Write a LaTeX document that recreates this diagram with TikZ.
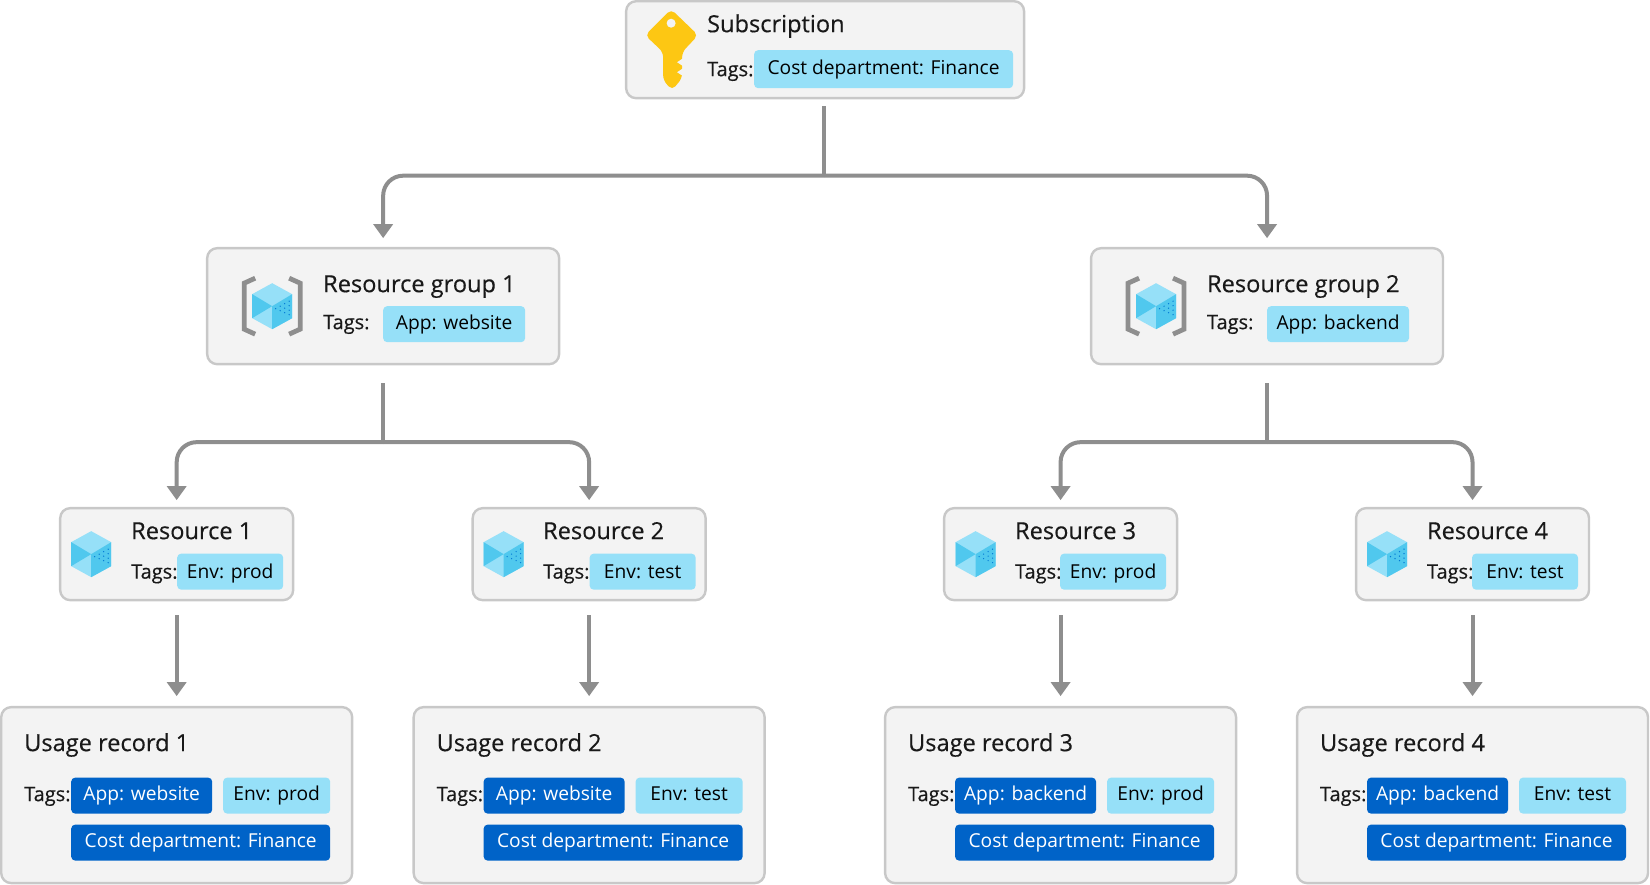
\documentclass[tikz,border=0pt]{standalone}
\usepackage{fontspec}
\setmainfont{Open Sans}
\newfontfamily\ttlfont[FakeBold=0.35]{Open Sans}
\usetikzlibrary{calc, arrows.meta}
\definecolor{chipblue}{HTML}{96E0F8}
\definecolor{chipdark}{HTML}{0063C8}
\definecolor{cubedark}{HTML}{50C8EE}
\definecolor{boxfill}{HTML}{F3F3F3}
\definecolor{boxline}{HTML}{C8C8C8}
\definecolor{linegray}{HTML}{8E8E8E}
\definecolor{keyyellow}{HTML}{FDC713}
\definecolor{dotblue}{HTML}{0078D4}

\begin{document}
\begin{tikzpicture}[
  x=1pt, y=-1pt,
  every node/.append style={inner sep=0pt, outer sep=0pt},
  box/.style={draw=boxline, line width=2.4pt, rounded corners=10pt, fill=boxfill},
  rgbox/.style={box, minimum width=352pt, minimum height=116pt},
  resbox/.style={box, minimum width=233pt, minimum height=92pt},
  usebox/.style={box, minimum width=351pt, minimum height=176pt},
  chip/.style={rounded corners=4pt, fill=chipblue, minimum height=36pt, text height=15pt, text depth=5pt, align=center, font=\fontsize{19.2}{24}\selectfont},
  dchip/.style={chip, fill=chipdark, text=white},
  rchip/.style={chip, text height=18pt, minimum width=106pt},
  ttl/.style={anchor=base west, font=\ttlfont\fontsize{23.6}{26}\selectfont, text=black!90},
  tg/.style={anchor=base west, font=\ttlfont\fontsize{20}{24}\selectfont, text=black!90},
  arr/.style={-{Triangle[length=14pt, width=19pt]}, draw=linegray, line width=4pt, rounded corners=20pt},
  stem/.style={draw=linegray, line width=4pt},
  cube/.pic={
    \fill[chipblue] (0,-23) -- (20,-12) -- (20,12) -- (0,23) -- (-20,12) -- (-20,-12) -- cycle;
    \fill[cubedark] (-20,-12) -- (0,0) -- (-20,12) -- cycle;
    \fill[cubedark] (0,0) -- (20,-12) -- (20,12) -- (0,23) -- cycle;
    \foreach \i in {0,1,2,3} \foreach \j in {0,...,\i}
      \fill[dotblue] (17-\j*4.5,-5+\i*4.5-\j*2) circle (0.7);
  },
  bracket/.pic={
    \draw[linegray, line width=4.8pt] (-17,-28) -- (-28,-23) -- (-28,23) -- (-17,28);
    \draw[linegray, line width=4.8pt] (17,-28) -- (28,-23) -- (28,23) -- (17,28);
  },
]

%% ─── Subscription ───────────────────────────────────────────────────────────
\node[box, minimum width=398pt, minimum height=97pt] (sub) at (825,49.5) {};
\fill[keyyellow, rounded corners=5pt] (671,9) -- (698,35) -- (682,52) -- (682,78) -- (672,90) -- (663,80) -- (663,52) -- (645,35) -- cycle;
\fill[boxfill] (683,58) -- (677,62) -- (683,66) -- cycle;
\fill[boxfill] (683,68) -- (677,72) -- (683,76) -- cycle;
\fill[boxfill] (671,23) circle (4.5);
\node[ttl] (subttl) at (707,32) {Subscription};
\node[tg]  (subtg)  at (707,76) {Tags:};
\node[chip, minimum width=259pt, minimum height=38pt] (subchip) at (883.5,69) {Cost department: Finance};

%% ─── Resource groups ────────────────────────────────────────────────────────
\node[rgbox] (rg1) at (383,306) {};
\pic at (272,306) {cube};
\pic at (272,306) {bracket};
\node[ttl] (rg1ttl) at (323,292) {Resource group 1};
\node[tg]  (rg1tg)  at (323,329) {Tags:};
\node[chip, minimum width=142pt] (rg1chip) at (454,324) {App: website};

\node[rgbox] (rg2) at (1267,306) {};
\pic at (1156,306) {cube};
\pic at (1156,306) {bracket};
\node[ttl] (rg2ttl) at (1207,292) {Resource group 2};
\node[tg]  (rg2tg)  at (1207,329) {Tags:};
\node[chip, minimum width=142pt] (rg2chip) at (1338,324) {App: backend};

%% ─── Resources ──────────────────────────────────────────────────────────────
\node[resbox] (res1) at (176.5,554) {};
\pic at (91,554) {cube};
\node[ttl] (res1ttl) at (131,539) {Resource 1};
\node[tg]  (res1tg)  at (131,578.5) {Tags:};
\node[rchip] (res1chip) at (230,571.5) {Env: prod};

\node[resbox] (res2) at (589,554) {};
\pic at (503.5,554) {cube};
\node[ttl] (res2ttl) at (543,539) {Resource 2};
\node[tg]  (res2tg)  at (543,578.5) {Tags:};
\node[rchip] (res2chip) at (642.5,571.5) {Env: test};

\node[resbox] (res3) at (1060.5,554) {};
\pic at (975.5,554) {cube};
\node[ttl] (res3ttl) at (1015,539) {Resource 3};
\node[tg]  (res3tg)  at (1015,578.5) {Tags:};
\node[rchip] (res3chip) at (1113,571.5) {Env: prod};

\node[resbox] (res4) at (1472.5,554) {};
\pic at (1387,554) {cube};
\node[ttl] (res4ttl) at (1427,539) {Resource 4};
\node[tg]  (res4tg)  at (1427,578.5) {Tags:};
\node[rchip] (res4chip) at (1525,571.5) {Env: test};

%% ─── Usage records ──────────────────────────────────────────────────────────
\node[usebox] (use1) at (176.5,795) {};
\node[ttl] (use1ttl) at (24,751) {Usage record 1};
\node[tg]  (use1tg)  at (24,801) {Tags:};
\node[dchip, minimum width=141pt] (use1app) at (141.5,795.5) {App: website};
\node[chip,  minimum width=107pt] (use1env) at (276.5,795.5) {Env: prod};
\node[dchip, minimum width=259pt] (use1cost) at (200.5,842.5) {Cost department: Finance};

\node[usebox] (use2) at (589,795) {};
\node[ttl] (use2ttl) at (436.5,751) {Usage record 2};
\node[tg]  (use2tg)  at (436.5,801) {Tags:};
\node[dchip, minimum width=141pt] (use2app) at (554,795.5) {App: website};
\node[chip,  minimum width=107pt] (use2env) at (689,795.5) {Env: test};
\node[dchip, minimum width=259pt] (use2cost) at (613,842.5) {Cost department: Finance};

\node[usebox] (use3) at (1060.5,795) {};
\node[ttl] (use3ttl) at (908,751) {Usage record 3};
\node[tg]  (use3tg)  at (908,801) {Tags:};
\node[dchip, minimum width=141pt] (use3app) at (1025.5,795.5) {App: backend};
\node[chip,  minimum width=107pt] (use3env) at (1160.5,795.5) {Env: prod};
\node[dchip, minimum width=259pt] (use3cost) at (1084.5,842.5) {Cost department: Finance};

\node[usebox] (use4) at (1472.5,795) {};
\node[ttl] (use4ttl) at (1320,751) {Usage record 4};
\node[tg]  (use4tg)  at (1320,801) {Tags:};
\node[dchip, minimum width=141pt] (use4app) at (1437.5,795.5) {App: backend};
\node[chip,  minimum width=107pt] (use4env) at (1572.5,795.5) {Env: test};
\node[dchip, minimum width=259pt] (use4cost) at (1496.5,842.5) {Cost department: Finance};

%% ─── Connectors ─────────────────────────────────────────────────────────────
\coordinate (j0) at ($(sub.south)+(-1,77.5)$);
\draw[stem, shorten <=8pt] ($(sub.south)+(-1,0)$) -- (j0);
\draw[arr, shorten >=10pt] (j0) -| (rg1.north);
\draw[arr, shorten >=10pt] (j0) -| (rg2.north);

\coordinate (j1) at ($(rg1.south)+(0,78)$);
\draw[stem, shorten <=19pt] (rg1.south) -- (j1);
\draw[arr, shorten >=8pt] (j1) -| (res1.north);
\draw[arr, shorten >=8pt] (j1) -| (res2.north);

\coordinate (j2) at ($(rg2.south)+(0,78)$);
\draw[stem, shorten <=19pt] (rg2.south) -- (j2);
\draw[arr, shorten >=8pt] (j2) -| (res3.north);
\draw[arr, shorten >=8pt] (j2) -| (res4.north);

\draw[arr, shorten <=15pt, shorten >=11pt] (res1.south) -- (use1.north);
\draw[arr, shorten <=15pt, shorten >=11pt] (res2.south) -- (use2.north);
\draw[arr, shorten <=15pt, shorten >=11pt] (res3.south) -- (use3.north);
\draw[arr, shorten <=15pt, shorten >=11pt] (res4.south) -- (use4.north);

\useasboundingbox (0,0) rectangle (1650,884);
\end{tikzpicture}
\end{document}
